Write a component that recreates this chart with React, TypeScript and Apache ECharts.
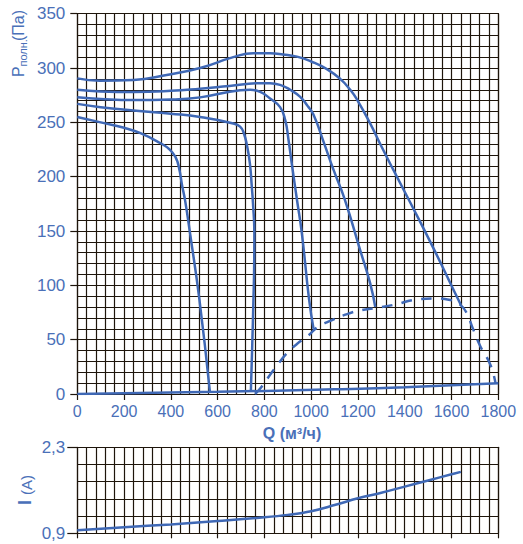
import React, { useEffect, useRef } from "react";
import * as echarts from "echarts";

// Pressure curves P (Pa) vs Q (m3/h)
const curve1: [number, number][] = [
  [0, 255], [100, 250], [200, 245], [270, 240], [354, 231], [395, 225], [420, 218],
  [435, 208], [448, 192], [461, 178], [482, 148], [522, 87], [567, 2],
];
const curve2: [number, number][] = [
  [0, 267], [100, 264], [240, 261], [400, 258], [525, 255], [667, 249], [696, 246],
  [712, 240], [726, 228], [738, 212], [746, 191], [751, 176], [757, 148], [756, 115],
  [753, 86], [748, 45], [742, 2],
];
const curve3: [number, number][] = [
  [0, 273], [100, 271.5], [240, 270.5], [400, 271], [525, 273], [696, 279.5], [739, 280],
  [782, 278], [824, 272], [867, 264], [889, 252], [903, 234], [917, 212], [939, 179],
  [960, 148], [991, 87], [1010, 60],
];
const curve4: [number, number][] = [
  [0, 280], [100, 278.5], [240, 278], [400, 279], [525, 281], [650, 283.5], [782, 286],
  [824, 286], [867, 284.5], [910, 280], [953, 273.5], [985, 265], [1010, 257], [1053, 232],
  [1096, 206], [1142, 180], [1210, 132], [1252, 102], [1274, 80],
];
const curve5: [number, number][] = [
  [0, 290.5], [97, 288.3], [240, 289], [382, 293.6], [525, 300], [667, 310], [753, 313.5],
  [824, 313.5], [880, 312.5], [939, 310.5], [1000, 306], [1067, 299], [1124, 290],
  [1167, 280], [1196, 271], [1252, 249], [1300, 228], [1352, 206], [1424, 176],
  [1523, 134], [1624, 89], [1640, 82],
];
// dashed boundary curve
const boundary: [number, number][] = [
  [760, 0], [789, 7], [832, 20], [867, 30], [903, 39], [939, 46], [989, 54], [1024, 61],
  [1089, 68], [1146, 73], [1210, 77], [1274, 79], [1352, 82], [1452, 87], [1531, 88],
  [1595, 86.5], [1638, 82], [1666, 74], [1688, 62], [1723, 44], [1766, 27], [1788, 10],
];
// base line along the bottom
const baseLine: [number, number][] = [
  [0, 0], [600, 2], [1100, 4.3], [1400, 6.2], [1800, 10],
];
// Current I (A) vs Q
const currentQ = [0, 200, 400, 600, 800, 900, 1000, 1100, 1200, 1300, 1400, 1500, 1600, 1640];
const currentI = [0.95, 1.0, 1.045, 1.1, 1.16, 1.2, 1.26, 1.36, 1.47, 1.56, 1.66, 1.76, 1.86, 1.9];

const Q_MIN = 0;
const Q_MAX = 1800;
const P_MIN = 0;
const P_MAX = 350;
const I_MIN = 0.9;
const I_MAX = 2.3;

const BLUE = "#3f68b5";
const LABEL = "#4a70b8";
const GRIDC = "#1e150b";
const FONT = "Liberation Sans, Arial, sans-serif";

export default function App() {
  const ref = useRef<HTMLDivElement>(null);
  useEffect(() => {
    if (!ref.current) return;
    const chart = echarts.init(ref.current, null, { renderer: "svg" });
    const lineStyleAxis = { color: GRIDC, width: 1.2 };
    const curveSeries = (data: [number, number][], dashed = false) => ({
      type: "line",
      xAxisIndex: 0,
      yAxisIndex: 0,
      data,
      smooth: 0.5,
      symbol: "none",
      lineStyle: { color: BLUE, width: 2.5, type: dashed ? [11, 9] : "solid" },
      z: 5,
    });
    const iRange = I_MAX - I_MIN;
    chart.setOption({
      animation: false,
      backgroundColor: "#ffffff",
      grid: [
        { left: 77.3, right: 24.7, top: 13.7, height: 380.3 },
        { left: 77.3, right: 24.7, top: 447.3, height: 86 },
      ],
      xAxis: [
        {
          gridIndex: 0, type: "value", min: Q_MIN, max: Q_MAX, interval: 200, position: "bottom",
          axisLine: { show: true, onZero: false, lineStyle: lineStyleAxis },
          axisTick: { show: true, length: 6, lineStyle: lineStyleAxis },
          axisLabel: {
            color: LABEL, fontSize: 16, fontFamily: FONT, margin: 9,
            formatter: (v: number) => String(v),
          },
          splitLine: { show: false },
        },
        {
          gridIndex: 0, type: "value", min: Q_MIN, max: Q_MAX, interval: 40, position: "top",
          axisLine: { show: true, onZero: false, lineStyle: lineStyleAxis },
          axisTick: { show: false }, axisLabel: { show: false },
          splitLine: { show: true, lineStyle: lineStyleAxis },
        },
        {
          gridIndex: 1, type: "value", min: Q_MIN, max: Q_MAX, interval: 200, position: "bottom",
          axisLine: { show: true, onZero: false, lineStyle: lineStyleAxis },
          axisTick: { show: true, length: 5, lineStyle: lineStyleAxis },
          axisLabel: { show: false },
          splitLine: { show: false },
        },
        {
          gridIndex: 1, type: "value", min: Q_MIN, max: Q_MAX, interval: 40, position: "top",
          axisLine: { show: true, onZero: false, lineStyle: lineStyleAxis },
          axisTick: { show: false }, axisLabel: { show: false },
          splitLine: { show: true, lineStyle: lineStyleAxis },
        },
      ],
      yAxis: [
        {
          gridIndex: 0, type: "value", min: P_MIN, max: P_MAX, interval: 50, position: "left",
          axisLine: { show: true, onZero: false, lineStyle: lineStyleAxis },
          axisTick: { show: true, length: 7, lineStyle: lineStyleAxis },
          axisLabel: { color: LABEL, fontSize: 17, fontFamily: FONT, margin: 12 },
          splitLine: { show: false },
        },
        {
          gridIndex: 0, type: "value", min: P_MIN, max: P_MAX, interval: 10, position: "right",
          axisLine: { show: true, onZero: false, lineStyle: lineStyleAxis },
          axisTick: { show: false }, axisLabel: { show: false },
          splitLine: { show: true, lineStyle: lineStyleAxis },
        },
        {
          gridIndex: 1, type: "value", min: 0, max: iRange, interval: iRange, position: "left",
          axisLine: { show: true, onZero: false, lineStyle: lineStyleAxis },
          axisTick: { show: true, length: 10, lineStyle: lineStyleAxis },
          axisLabel: {
            color: LABEL, fontSize: 17, fontFamily: FONT, margin: 12,
            formatter: (v: number) => (v + I_MIN).toFixed(1).replace(".", ","),
          },
          splitLine: { show: false },
        },
        {
          gridIndex: 1, type: "value", min: 0, max: iRange, interval: iRange / 5, position: "right",
          axisLine: { show: true, onZero: false, lineStyle: lineStyleAxis },
          axisTick: { show: false }, axisLabel: { show: false },
          splitLine: { show: true, lineStyle: lineStyleAxis },
        },
      ],
      series: [
        curveSeries(curve1),
        curveSeries(curve2),
        curveSeries(curve3),
        curveSeries(curve4),
        curveSeries(curve5),
        curveSeries(boundary, true),
        curveSeries(baseLine),
        {
          type: "line",
          xAxisIndex: 2,
          yAxisIndex: 2,
          data: currentQ.map((q, i) => [q, currentI[i] - I_MIN]),
          smooth: 0.4,
          symbol: "none",
          lineStyle: { color: BLUE, width: 2.5 },
          z: 5,
        },
      ],
      graphic: [
        {
          type: "group",
          x: 26,
          y: 77,
          rotation: Math.PI / 2,
          children: [
            {
              type: "text", x: 0, y: 0,
              style: { text: "P", fill: LABEL, fontSize: 16, fontFamily: FONT, align: "left", verticalAlign: "bottom" },
            },
            {
              type: "text", x: 10.5, y: 2,
              style: { text: "полн.", fill: LABEL, fontSize: 11, fontFamily: FONT, align: "left", verticalAlign: "bottom" },
            },
            {
              type: "text", x: 36, y: 0,
              style: { text: "(Па)", fill: LABEL, fontSize: 16, fontFamily: FONT, align: "left", verticalAlign: "bottom" },
            },
          ],
        },
        {
          type: "text",
          x: 292,
          y: 433,
          style: {
            text: "Q (м³/ч)", fill: LABEL, fontSize: 16, fontWeight: "bold", fontFamily: FONT,
            align: "center", verticalAlign: "middle",
          },
        },
        {
          type: "group",
          x: 34,
          y: 505,
          rotation: Math.PI / 2,
          children: [
            {
              type: "text", x: 0, y: 0,
              style: { text: "I", fill: LABEL, fontSize: 18, fontWeight: "bold", fontFamily: FONT, align: "left", verticalAlign: "bottom" },
            },
            {
              type: "text", x: 10, y: 0,
              style: { text: "(A)", fill: LABEL, fontSize: 15, fontFamily: FONT, align: "left", verticalAlign: "bottom" },
            },
          ],
        },
      ],
    });
    return () => chart.dispose();
  }, []);
  return (
    <div
      ref={ref}
      style={{ position: "absolute", left: 0, top: 0, width: 523, height: 544 }}
    />
  );
}
